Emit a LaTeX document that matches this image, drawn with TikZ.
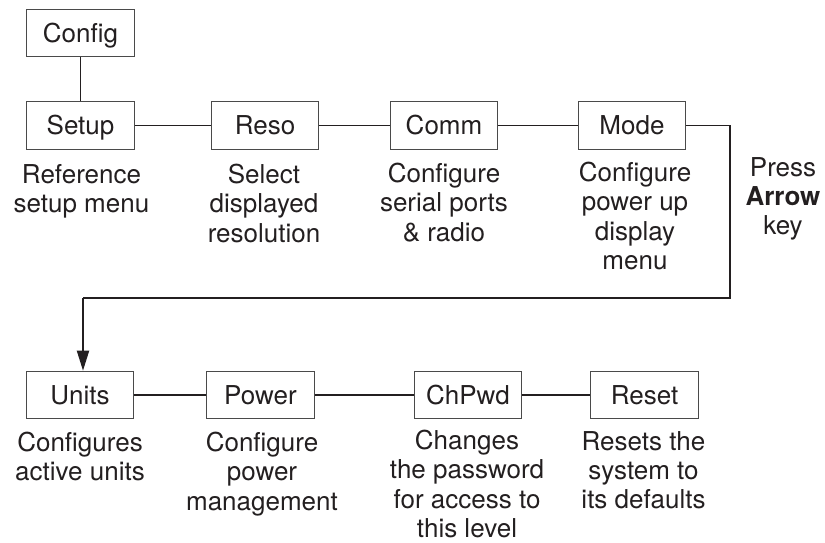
\documentclass[tikz,border=0pt]{standalone}
\usepackage{fontspec}
\setmainfont{TeX Gyre Heros}
\usetikzlibrary{arrows.meta}
\definecolor{ink}{HTML}{231F20}
\definecolor{boxline}{HTML}{4A4A4A}
\begin{document}
\begin{tikzpicture}[x=1pt,y=-1pt,
  menubox/.style={draw=boxline,line width=1.1pt,minimum width=107.5pt,minimum height=47.5pt,inner sep=0pt,text height=18.6pt,text depth=0pt,text=ink,font=\fontsize{26}{29}\selectfont},
  desc/.style={anchor=north,align=center,inner sep=0pt,text=ink,font=\fontsize{26}{29.3}\selectfont},
  link/.style={draw=ink,line width=1.9pt}]
\useasboundingbox (0,0) rectangle (825,542);
\node[menubox] (config) at (80.5,33) {Config};
\node[menubox] (setup) at (80.5,125.5) {Setup};
\node[menubox] (reso) at (265,125.5) {Reso};
\node[menubox] (comm) at (444,125.5) {Comm};
\node[menubox] (mode) at (632,125.5) {Mode};
\node[menubox] (units) at (80,395) {Units};
\node[menubox] (power) at (260.5,395) {Power};
\node[menubox] (chpwd) at (468,395) {ChPwd};
\node[menubox] (reset) at (644.5,395) {Reset};
\node[desc] (dsetup) at (81.5,164) {Reference\\setup menu};
\node[desc] (dreso) at (264,164) {Select\\displayed\\resolution};
\node[desc] (dcomm) at (444,163) {Configure\\serial ports\\\& radio};
\node[desc] (dmode) at (635,162) {Configure\\power up\\display\\menu};
\node[desc] (press) at (783,157) {Press\\\textbf{Arrow}\\key};
\node[desc] (dunits) at (80,432) {Configures\\active units};
\node[desc] (dpower) at (262,432) {Configure\\power\\management};
\node[desc] (dchpwd) at (467,430) {Changes\\the password\\for access to\\this level};
\node[desc] (dreset) at (643.5,431) {Resets the\\system to\\its defaults};
\coordinate (c1) at (730,298);
\coordinate (c2) at (83,298);
\draw[link] (config) -- (setup);
\draw[link] (setup) -- (reso);
\draw[link] (reso) -- (comm);
\draw[link] (comm) -- (mode);
\draw[link] (mode.east) -| (c1) -- (c2);
\draw[link,-{Triangle[length=20pt,width=12pt]}] (c2) -- (c2 |- units.north);
\draw[link] (units) -- (power);
\draw[link] (power) -- (chpwd);
\draw[link] (chpwd) -- (reset);
\end{tikzpicture}
\end{document}
